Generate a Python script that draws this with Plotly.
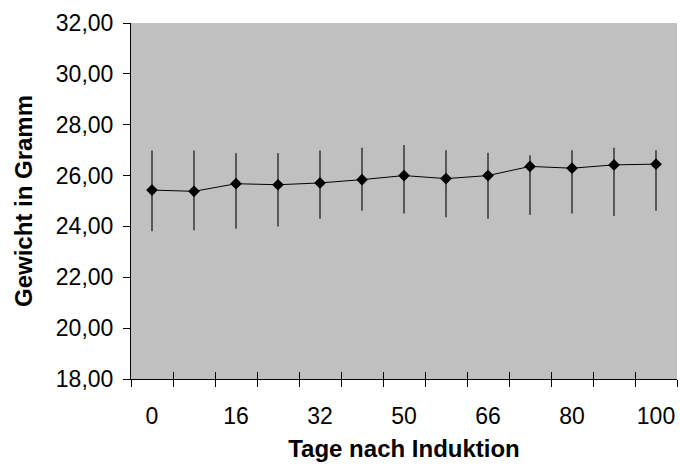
import plotly.graph_objects as go

# Data
days = ["0", "8", "16", "24", "32", "42", "50", "58", "66", "73", "80", "90", "100"]
mean_weight = [25.43, 25.38, 25.68, 25.64, 25.71, 25.84, 26.00, 25.88, 26.00, 26.36, 26.29, 26.42, 26.45]
upper = [26.99, 26.99, 26.88, 26.88, 26.99, 27.09, 27.20, 27.00, 26.90, 26.80, 27.00, 27.09, 27.00]
lower = [23.81, 23.85, 23.91, 24.00, 24.30, 24.62, 24.51, 24.36, 24.30, 24.46, 24.51, 24.41, 24.62]

pos = list(range(len(days)))
err_plus = [u - m for u, m in zip(upper, mean_weight)]
err_minus = [m - l for m, l in zip(mean_weight, lower)]

FONT = "Liberation Sans, Arial, sans-serif"

fig = go.Figure()
fig.add_trace(go.Scatter(
    x=pos, y=mean_weight, mode="lines+markers",
    line=dict(color="black", width=1),
    marker=dict(symbol="diamond", size=9, color="black"),
    error_y=dict(type="data", symmetric=False, array=err_plus, arrayminus=err_minus,
                 color="#111111", thickness=1.2, width=0),
    showlegend=False,
))
# invisible trace to carry the second (inside-tick) x axis
fig.add_trace(go.Scatter(x=[pos[0]], y=[mean_weight[0]], xaxis="x2", mode="markers",
                         marker=dict(opacity=0), showlegend=False, hoverinfo="skip"))

boundaries = [p - 0.5 for p in pos] + [pos[-1] + 0.5]

fig.update_layout(
    width=680, height=466,
    margin=dict(l=131, r=3, t=23, b=87, autoexpand=False),
    paper_bgcolor="white", plot_bgcolor="#c0c0c0",
    separators=",.",
    font=dict(family=FONT, color="black", size=23),
    xaxis=dict(
        automargin=False,
        range=[-0.5, len(days) - 0.5],
        tickvals=pos[::2], ticktext=days[::2],
        ticks="", showgrid=False, zeroline=False,
        showline=True, linecolor="black", linewidth=1,
        tickfont=dict(size=23), ticklabelstandoff=16,
        minor=dict(tickvals=boundaries, ticks="outside", ticklen=7,
                   tickcolor="black", tickwidth=1, showgrid=False),
        title=dict(text="Tage nach Induktion", font=dict(size=24, weight="bold"), standoff=12),
    ),
    xaxis2=dict(
        overlaying="x", matches="x", anchor="y", side="bottom", automargin=False,
        tickvals=boundaries, ticks="inside", ticklen=7, tickcolor="black", tickwidth=1,
        showticklabels=False, showgrid=False, zeroline=False, showline=False,
    ),
    yaxis=dict(
        automargin=False,
        range=[18, 32], dtick=2, tick0=18, tickformat=".2f",
        ticks="outside", ticklen=7, tickcolor="black", tickwidth=1,
        showgrid=False, zeroline=False,
        showline=True, linecolor="black", linewidth=1,
        tickfont=dict(size=23), ticklabelstandoff=5,
        title=dict(text="Gewicht in Gramm", font=dict(size=24, weight="bold"), standoff=16),
    ),
)

fig.write_html(
    "out.html",
    config={"displayModeBar": False},
    post_script="document.body.style.margin='0';document.body.style.overflow='hidden';",
)
